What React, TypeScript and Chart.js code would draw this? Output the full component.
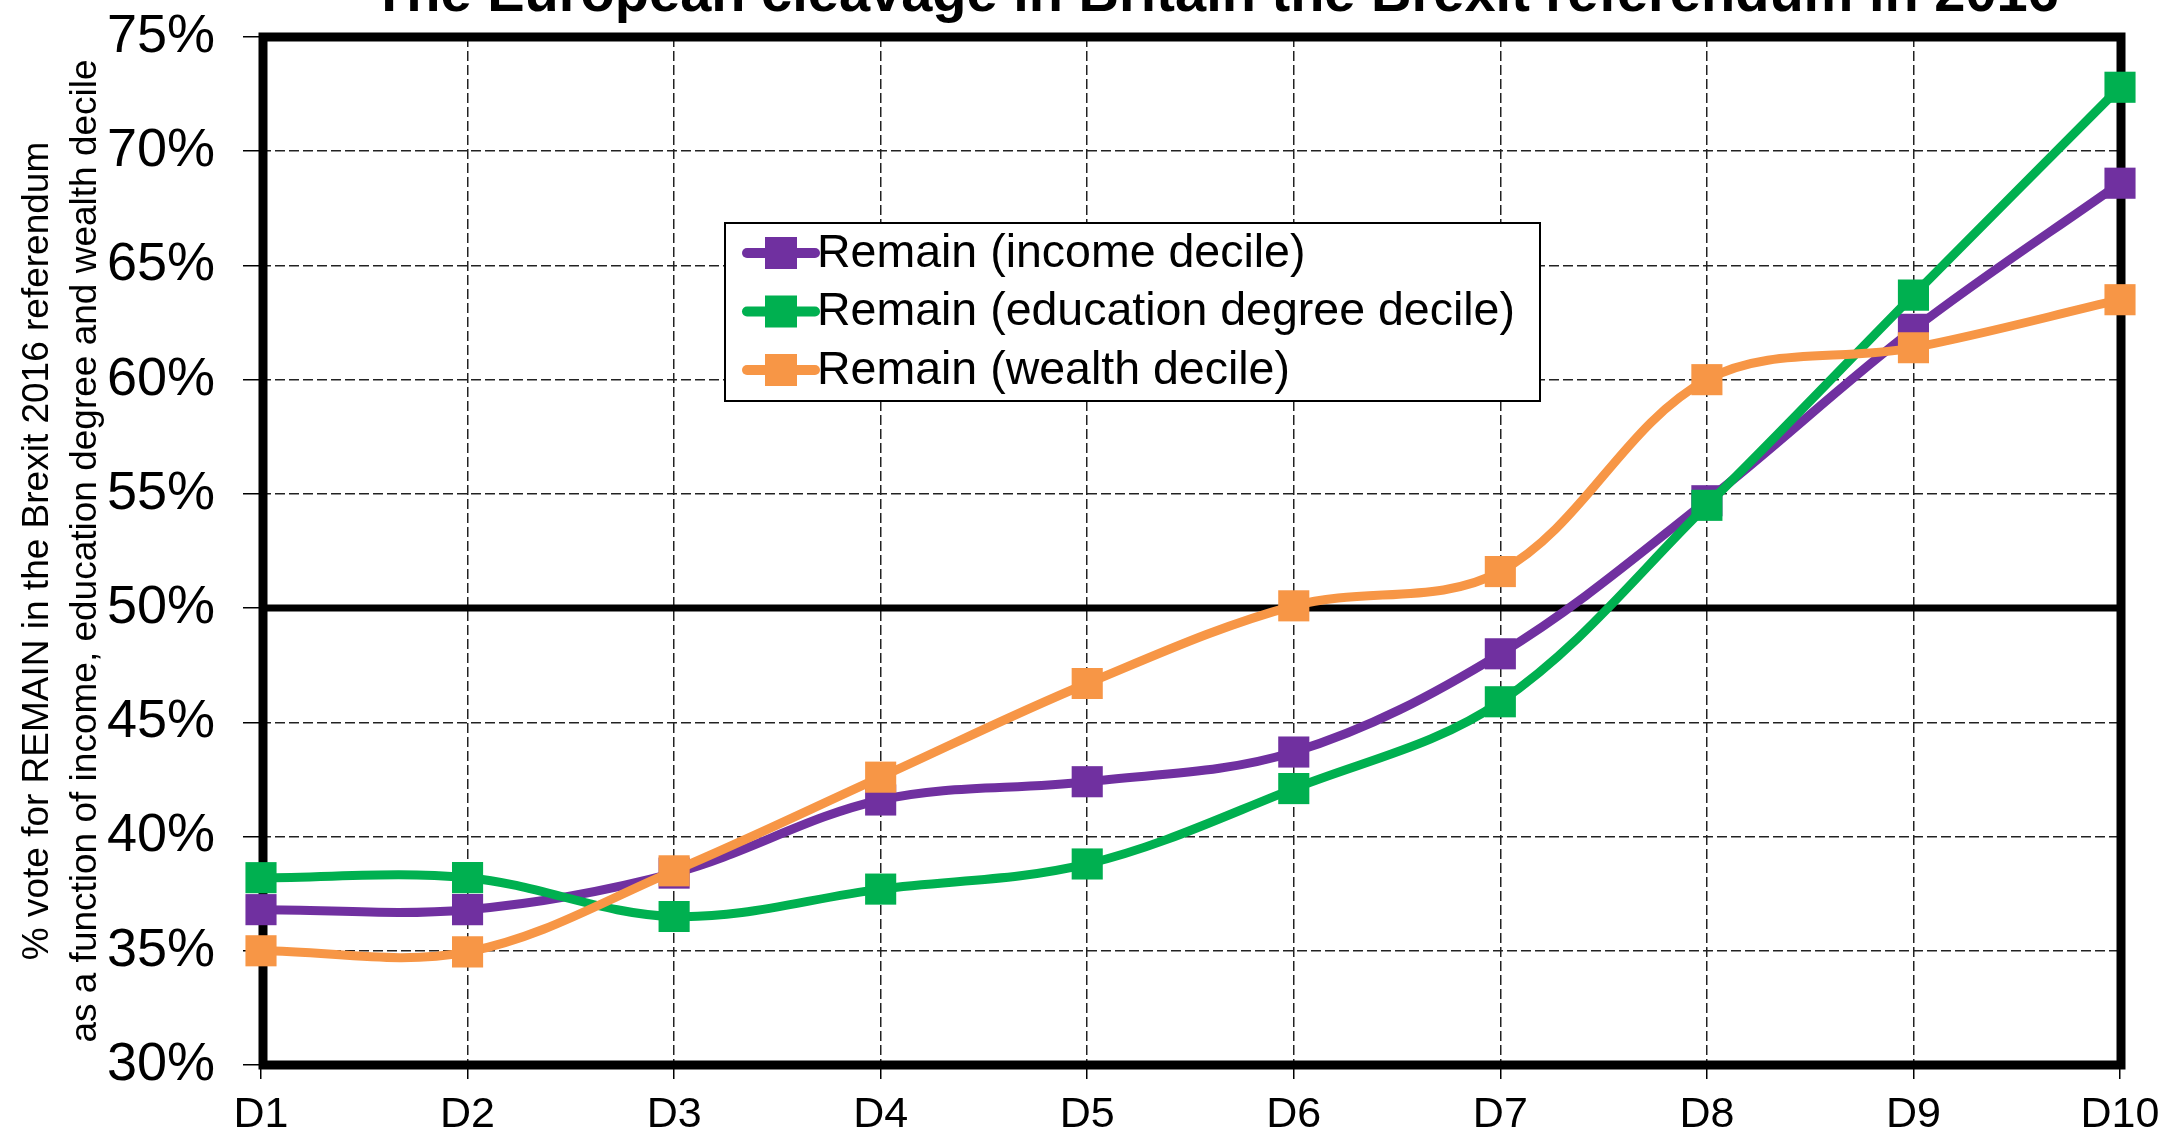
import React, { useEffect, useRef } from "react";
import { Chart, registerables } from "chart.js";

Chart.register(...registerables);

const TITLE = "The European cleavage in Britain the Brexit referendum in 2016";
const Y_TITLE = [
  "% vote for REMAIN in the Brexit 2016 referendum",
  "as a function of income, education degree and wealth decile",
];

const deciles = ["D1", "D2", "D3", "D4", "D5", "D6", "D7", "D8", "D9", "D10"];

const incomeRemain = [36.8, 36.8, 38.4, 41.6, 42.4, 43.7, 48.0, 54.7, 62.2, 68.6];
const educationRemain = [38.2, 38.2, 36.5, 37.7, 38.8, 42.1, 45.9, 54.5, 63.7, 72.8];
const wealthRemain = [35.0, 34.95, 38.5, 42.6, 46.7, 50.1, 51.6, 60.0, 61.4, 63.5];

const seriesLabels = [
  "Remain (income decile)",
  "Remain (education degree decile)",
  "Remain (wealth decile)",
];
const seriesColors = ["#7030A0", "#00B050", "#F79646"];

const Y_MIN = 30;
const Y_MAX = 75;
const Y_STEP = 5;
const THRESHOLD = 50;

const FONT = "'Liberation Sans', Arial, Helvetica, sans-serif";

const framePlugin = {
  id: "frameAndThreshold",
  beforeDatasetsDraw(chart: any) {
    const { ctx, chartArea: a, scales } = chart;
    ctx.save();
    ctx.strokeStyle = "#000";
    ctx.lineWidth = 7;
    const y50 = scales.y.getPixelForValue(THRESHOLD);
    ctx.beginPath();
    ctx.moveTo(a.left, y50);
    ctx.lineTo(a.right, y50);
    ctx.stroke();
    ctx.lineWidth = 9;
    ctx.strokeRect(a.left + 2, a.top, a.right - a.left - 1, a.bottom - a.top);
    ctx.restore();
  },
};

const titlePlugin = {
  id: "cutTitle",
  afterDraw(chart: any) {
    const { ctx, chartArea: a } = chart;
    ctx.save();
    ctx.font = `bold 56px ${FONT}`;
    ctx.fillStyle = "#000";
    ctx.textAlign = "center";
    ctx.textBaseline = "alphabetic";
    ctx.fillText(TITLE, (a.left + a.right) / 2 + 25, 11);
    ctx.restore();
  },
};

const legendPlugin = {
  id: "boxLegend",
  afterDraw(chart: any) {
    const { ctx, chartArea: a } = chart;
    const bx = a.left + 464;
    const by = a.top + 186;
    const bw = 815;
    const bh = 178;
    ctx.save();
    ctx.fillStyle = "#fff";
    ctx.fillRect(bx, by, bw, bh);
    ctx.strokeStyle = "#000";
    ctx.lineWidth = 2;
    ctx.strokeRect(bx, by, bw, bh);
    chart.data.datasets.forEach((ds: any, i: number) => {
      const cy = by + 30 + i * 58.5;
      ctx.strokeStyle = ds.borderColor;
      ctx.lineWidth = 10;
      ctx.lineCap = "round";
      ctx.beginPath();
      ctx.moveTo(bx + 22, cy);
      ctx.lineTo(bx + 90, cy);
      ctx.stroke();
      ctx.fillStyle = ds.borderColor;
      ctx.fillRect(bx + 56 - 16, cy - 16, 32, 32);
      ctx.fillStyle = "#000";
      ctx.font = `46.5px ${FONT}`;
      ctx.textAlign = "left";
      ctx.textBaseline = "middle";
      ctx.fillText(ds.label, bx + 92, cy + 1);
    });
    ctx.restore();
  },
};

const seriesValues = [incomeRemain, educationRemain, wealthRemain];
const drawOrder = [3, 2, 1];

export default function App() {
  const ref = useRef<HTMLCanvasElement>(null);

  useEffect(() => {
    document.body.style.margin = "0";
    const datasets = seriesValues.map((vals, i) => ({
      label: seriesLabels[i],
      data: vals,
      borderColor: seriesColors[i],
      backgroundColor: seriesColors[i],
      pointBackgroundColor: seriesColors[i],
      pointBorderColor: seriesColors[i],
      pointBorderWidth: 0,
      pointStyle: "rect" as const,
      pointRadius: 22,
      pointHoverRadius: 22,
      borderWidth: 9,
      tension: 0.35,
      clip: false as const,
      order: drawOrder[i],
      fill: false,
    }));

    const chart = new Chart(ref.current!, {
      type: "line",
      data: { labels: deciles, datasets },
      plugins: [framePlugin, legendPlugin, titlePlugin],
      options: {
        responsive: false,
        animation: false,
        devicePixelRatio: 1,
        layout: { padding: { left: 0, top: 37, right: 46, bottom: 0 } },
        plugins: {
          legend: { display: false },
          title: { display: false },
          tooltip: { enabled: false },
        },
        scales: {
          x: {
            type: "category",
            offset: false,
            afterFit: (scale: any) => {
              scale.height = 71;
              scale.paddingLeft = 0;
              scale.paddingRight = 0;
              scale.paddingTop = 0;
              scale.paddingBottom = 0;
            },
            grid: {
              offset: false,
              color: "#222",
              lineWidth: 1.5,
              drawTicks: true,
              tickLength: 14,
              tickColor: "#000",
              tickWidth: 1.5,
              tickBorderDash: [],
            },
            border: { display: false, dash: [10, 4] },
            ticks: {
              color: "#000",
              font: { family: FONT, size: 43 },
              padding: 10,
              maxRotation: 0,
              autoSkip: false,
            },
          },
          y: {
            min: Y_MIN,
            max: Y_MAX,
            afterFit: (scale: any) => {
              scale.width = 261;
              scale.paddingLeft = 0;
              scale.paddingRight = 0;
              scale.paddingTop = 0;
              scale.paddingBottom = 0;
            },
            grid: {
              color: "#222",
              lineWidth: 1.5,
              drawTicks: true,
              tickLength: 18,
              tickColor: "#000",
              tickWidth: 1.5,
              tickBorderDash: [],
            },
            border: { display: false, dash: [10, 4] },
            ticks: {
              stepSize: Y_STEP,
              color: "#000",
              font: { family: FONT, size: 54 },
              padding: 28,
              callback: (v: any) => `${v}%`,
            },
            title: {
              display: true,
              text: Y_TITLE,
              color: "#000",
              font: { family: FONT, size: 37, lineHeight: 1.3 },
              padding: { top: 14, bottom: 0 },
            },
          },
        },
      },
    });
    return () => chart.destroy();
  }, []);

  return (
    <div
      style={{
        position: "absolute",
        left: 0,
        top: 0,
        width: 2166,
        height: 1136,
        background: "#fff",
        overflow: "hidden",
      }}
    >
      <canvas ref={ref} width={2166} height={1136} style={{ display: "block" }} />
    </div>
  );
}
